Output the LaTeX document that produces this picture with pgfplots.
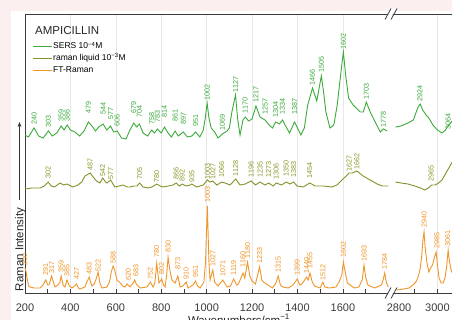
\documentclass[border=0pt]{standalone}
\usepackage{fontspec}
\setmainfont{Liberation Sans}
\usepackage{pgfplots}
\usepackage{pgfplotstable}
\pgfplotsset{compat=1.18}
\usetikzlibrary{arrows.meta}
\definecolor{sers}{RGB}{60,170,60}
\definecolor{liq}{RGB}{158,170,48}
\definecolor{ftr}{RGB}{240,150,40}
\definecolor{bgpink}{RGB}{252,239,240}
\definecolor{axgray}{RGB}{60,60,60}

% y values are read as pixel rows from the top of the picture (y dir=reverse)
\pgfplotstableread{
x y
200 135
215 137
240 128
260 136
280 138
303 131
320 136
340 133
359 126
372 130
386 125
400 130
420 132
440 136
460 131
479 122
495 126
510 131
525 127
544 124
560 130
577 126
590 132
606 131
625 138
645 139
660 131
679 123
692 127
704 124
720 133
740 136
758 130
770 133
783 129
800 133
814 127
830 133
845 137
861 131
875 136
897 132
915 137
935 136
951 132
970 137
985 130
994 118
1002 103
1010 118
1020 128
1035 132
1050 138
1069 134
1090 131
1100 128
1111 112
1127 95
1137 120
1147 135
1160 120
1170 117
1185 121
1200 119
1217 106
1235 117
1257 120
1275 125
1290 128
1304 122
1320 124
1334 120
1350 127
1365 133
1387 122
1400 128
1415 135
1430 128
1445 105
1466 88
1485 101
1505 76
1515 92
1525 112
1543 128
1560 125
1575 105
1590 75
1602 52
1612 75
1625 98
1645 105
1676 112
1690 112
1703 102
1720 112
1742 122
1765 132
1778 129
1795 131
}\sersL
\pgfplotstableread{
x y
2815 127
2840 126
2870 123
2894 120
2905 113
2915 107
2924 104
2935 110
2950 115
2962 118
2980 125
3000 130
3020 133
3035 130
3050 125
3065 121
3080 118
}\sersR
\pgfplotstableread{
x y l
240 125 240
303 128 303
359 122 359
386 122 386
479 114 479
544 115 544
577 120 577
606 127 606
679 114 679
704 118 704
758 125 758
783 123 783
814 118 814
861 122 861
897 125 897
951 127 951
1002 101 1002
1069 131 1069
1127 93 1127
1170 114 1170
1217 103 1217
1257 115 1257
1304 118 1304
1334 115 1334
1387 115 1387
1466 86 1466
1505 73 1505
1602 50 1602
1703 100 1703
1778 128 1778
}\sersLabL
\pgfplotstableread{
x y l
2923 102 2924
3047 130 3064
}\sersLabR

\pgfplotstableread{
x y
200 189
230 188
266 188
285 186
302 182
315 186
330 187
354 183
370 185
385 184
411 187
433 185
450 182
464 176
487 173
500 177
515 181
530 183
542 178
555 182
561 183
577 180
590 185
596 187
615 186
632 185
650 187
662 187
680 186
693 186
705 183
720 187
740 188
759 187
780 184
795 186
808 187
830 186
852 185
866 183
880 186
892 184
910 186
927 185
935 184
956 187
985 185
1003 180
1015 182
1027 181
1045 185
1066 182
1081 183
1103 185
1128 179
1147 185
1170 184
1196 181
1215 185
1235 182
1257 185
1273 183
1293 186
1306 183
1330 185
1350 182
1367 184
1383 182
1398 186
1425 187
1454 183
1478 186
1513 186
1552 187
1574 185
1596 180
1619 175
1627 173
1641 173
1662 171
1689 176
1720 180
1751 184
1773 186
1800 186
}\liqL
\pgfplotstableread{
x y
2815 182
2840 183
2870 184
2900 186
2925 188
2945 190
2960 188
2974 185
2990 185
3005 183
3020 180
3035 174
3050 168
3065 162
3080 157
}\liqR
\pgfplotstableread{
x y l
302 179 302
487 171 487
542 177 542
577 180 577
705 180 705
780 183 780
866 180 866
892 182 892
935 183 935
1003 180 1003
1027 180 1027
1066 178 1066
1128 177 1128
1196 178 1196
1235 178 1235
1273 178 1273
1306 180 1306
1350 177 1350
1383 178 1383
1454 179 1454
1627 172 1627
1662 170 1662
}\liqLabL
\pgfplotstableread{
x y l
2972 182 2965
}\liqLabR

\pgfplotstableread{
x y
200 268
205 272
209 278
216 286
222 287
240 288
266 288
279 285
291 280
300 285
306 285
317 276
332 287
345 285
354 282
359 276
368 285
376 287
385 280
395 286
407 288
418 286
427 284
435 288
442 289
464 287
472 282
483 277
490 283
495 286
505 284
512 280
522 272
530 283
539 288
561 287
572 282
580 272
588 266
595 270
605 280
620 283
630 286
640 287
650 284
662 287
676 283
683 280
690 284
707 288
737 287
752 282
764 287
772 283
780 263
790 283
802 279
810 285
817 287
824 275
830 257
838 270
847 280
861 283
873 276
883 287
895 286
910 282
918 288
940 285
951 281
960 286
971 288
988 282
995 262
1003 206
1010 262
1015 280
1027 270
1035 282
1050 286
1071 280
1090 287
1105 286
1119 279
1132 285
1140 284
1160 273
1168 278
1180 262
1190 276
1200 281
1215 284
1233 267
1243 280
1250 282
1270 285
1290 288
1305 283
1315 276
1325 285
1335 287
1360 288
1380 285
1399 279
1410 285
1420 284
1440 277
1447 280
1455 273
1465 282
1475 286
1500 288
1512 282
1520 287
1540 288
1570 287
1585 281
1595 275
1602 262
1610 272
1620 283
1650 288
1670 287
1685 280
1693 265
1700 277
1710 285
1740 288
1770 285
1777 280
1784 273
1792 283
1800 287
}\ftrL
\pgfplotstableread{
x y
2820 290
2850 289
2875 288
2892 285
2905 282
2915 277
2923 270
2930 258
2936 240
2941 232
2946 248
2954 263
2962 272
2970 268
2978 265
2986 258
2994 252
3000 265
3007 278
3016 283
3025 283
3033 278
3040 268
3047 250
3053 262
3060 270
3070 276
3080 280
}\ftrR
\pgfplotstableread{
x y l
200 266 200
291 276 291
317 274 317
359 273 359
385 277 385
427 280 427
483 275 483
522 272 522
588 264 588
655 281 620
688 277 683
752 280 752
780 258 780
802 275 802
830 253 830
873 270 873
910 280 910
951 278 951
1003 203 1003
1027 267 1027
1071 277 1071
1119 276 1119
1160 268 1160
1180 259 1180
1233 264 1233
1315 273 1315
1399 276 1399
1440 274 1440
1455 269 1455
1512 281 1512
1602 258 1602
1693 262 1693
1784 270 1784
}\ftrLabL
\pgfplotstableread{
x y l
2941 228 2940
2998 249 2985
3045 247 3061
}\ftrLabR

\pgfplotsset{
  spec/.style={
    scale only axis, height=279pt,
    ymin=14, ymax=293, y dir=reverse, ytick=\empty,
    axis x line*=box,
    xtick pos=bottom,
    tick align=inside,
    major tick length=4pt, minor tick length=4pt,
    tick style={axgray, line width=0.6pt},
    axis line style={axgray, line width=0.8pt},
    xmajorgrids, major grid style={black!9, line width=0.6pt},
    xticklabel style={font=\fontsize{11}{12}\selectfont, text=axgray, yshift=-7pt},
    /pgf/number format/assume math mode=true,
    /pgf/number format/1000 sep={},
    clip=false,
  },
  lab/.style={draw=none, forget plot, nodes near coords, point meta=explicit symbolic,
    nodes near coords style={rotate=90, anchor=west, inner sep=0.6pt,
      font=\fontsize{7.2}{8}\selectfont, text=#1}},
}

\begin{document}
\begin{tikzpicture}[x=1pt,y=1pt]
\fill[bgpink] (0,0) rectangle (452,320);
\fill[white] (11,0) rectangle (452,309);
\begin{scope}
\clip (0,0) rectangle (452,320);
\begin{axis}[spec, at={(25pt,27pt)}, anchor=south west, width=364pt,
    axis y line*=left,
    xmin=200, xmax=1803,
    xtick={200,400,...,1600}, minor xtick={300,500,...,1700},
    legend style={at={(axis description cs:0.019,0.904)}, anchor=north west,
      draw=none, fill=none, inner sep=0pt,
      font=\fontsize{8.5}{10}\selectfont,
      nodes={inner sep=1pt, text height=7pt, text depth=2pt},
      row sep=0.8pt, cells={anchor=west}},
    legend image code/.code={\draw[#1, line width=1.1pt] (0pt,0pt) -- (19pt,0pt);},
  ]
  \addplot[sers, line width=0.9pt] table {\sersL};
  \addlegendentry{SERS 10\textsuperscript{−4}M}
  \addplot[liq!85!black, line width=0.9pt] table {\liqL};
  \addlegendentry{raman liquid 10\textsuperscript{−3}M}
  \addplot[ftr, line width=0.9pt] table {\ftrL};
  \addlegendentry{FT-Raman}
  \addplot[lab=sers] table[meta=l] {\sersLabL};
  \addplot[lab=liq!90!black] table[meta=l] {\liqLabL};
  \addplot[lab=ftr] table[meta=l] {\ftrLabL};
\end{axis}
\begin{axis}[spec, at={(392pt,27pt)}, anchor=south west, width=70pt,
    axis y line=none,
    xmin=2800, xmax=3108,
    xtick={3000}, minor xtick={2900,3100},
    extra x ticks={2800}, extra x tick style={grid=none,
      xticklabel style={xshift=7pt}},
  ]
  \addplot[sers, line width=0.9pt] table {\sersR};
  \addplot[liq!85!black, line width=0.9pt] table {\liqR};
  \addplot[ftr, line width=0.9pt] table {\ftrR};
  \addplot[lab=sers] table[meta=l] {\sersLabR};
  \addplot[lab=liq!90!black] table[meta=l] {\liqLabR};
  \addplot[lab=ftr] table[meta=l] {\ftrLabR};
\end{axis}
% axis breaks
\foreach \yy in {306,27} {
  \fill[white] (385.5,\yy-5.5) -- (391.5,\yy+5.5) -- (396,\yy+5.5) -- (390,\yy-5.5) -- cycle;
  \draw[axgray, line width=0.8pt] (385,\yy-5.5) -- (391,\yy+5.5);
  \draw[axgray, line width=0.8pt] (391,\yy-5.5) -- (397,\yy+5.5);
}
\node[anchor=base west, inner sep=0, font=\fontsize{11.5}{12}\selectfont, text=black!85] at (35,285.5) {AMPICILLIN};
\node[rotate=90, anchor=base, inner sep=0, font=\fontsize{11.5}{12}\selectfont, text=black!85] at (23.5,70.5) {Raman Intensity};
\draw[-{Stealth[length=5pt]}, black!80, line width=0.7pt] (19.5,120) -- (19.5,198);
\node[anchor=base, inner sep=0, font=\fontsize{11.5}{12}\selectfont, text=black!85] at (239,-4.2) {Wavenumbers/cm\textsuperscript{−1}};
\end{scope}
\pgfresetboundingbox
\useasboundingbox (0,0) rectangle (452,320);
\end{tikzpicture}
\end{document}
